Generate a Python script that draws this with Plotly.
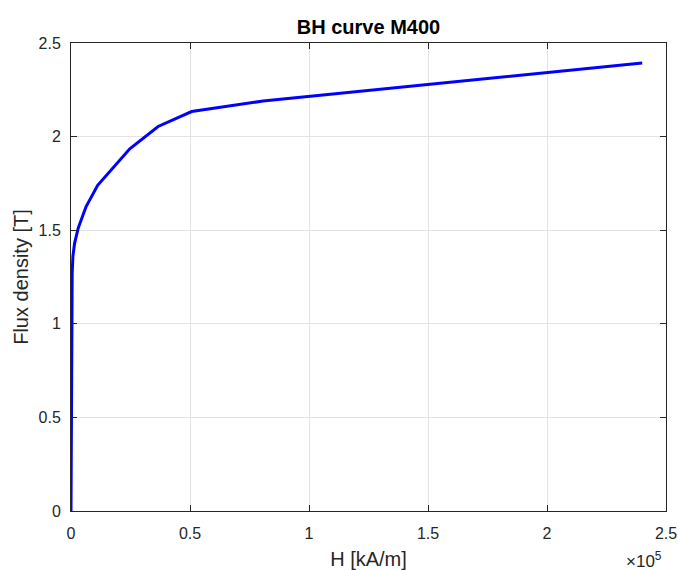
import plotly.graph_objects as go

H = [0, 100, 200, 300, 500, 800, 1500, 3000, 6300, 11200, 16800, 24700, 36600, 50700, 80700, 240000]
B = [0, 0.6, 1.0, 1.15, 1.27, 1.36, 1.43, 1.51, 1.625, 1.74, 1.823, 1.935, 2.054, 2.134, 2.19, 2.393]

x_tickvals = [0, 50000, 100000, 150000, 200000, 250000]
x_ticktext = ["0", "0.5", "1", "1.5", "2", "2.5"]
y_tickvals = [0, 0.5, 1, 1.5, 2, 2.5]
y_ticktext = ["0", "0.5", "1", "1.5", "2", "2.5"]

FONT = "Liberation Sans, Arial, Helvetica"
axis_common = dict(showline=True, linecolor="#262626", linewidth=1, mirror="allticks",
                   ticks="inside", ticklen=6, tickcolor="#262626",
                   showgrid=True, gridcolor="#e3e3e3", gridwidth=1, zeroline=False,
                   automargin=False,
                   tickfont=dict(family=FONT, size=16, color="#262626"))

fig = go.Figure()
fig.add_trace(go.Scatter(x=H, y=B, mode="lines",
                         line=dict(color="#0000ff", width=3), showlegend=False))

fig.update_layout(
    width=678, height=570,
    paper_bgcolor="white", plot_bgcolor="white",
    margin=dict(l=71, r=12, t=43, b=59),
    title=dict(text="<b>BH curve M400</b>", x=(71 + 666) / 2 / 678, xanchor="center",
               y=1 - 27 / 570, yanchor="middle",
               font=dict(family=FONT, size=20, color="black")),
    xaxis=dict(range=[0, 250000], tickvals=x_tickvals, ticktext=x_ticktext,
               ticklabelstandoff=8,
               title=dict(text="H [kA/m]", font=dict(family=FONT, size=20, color="#262626"), standoff=10),
               **axis_common),
    yaxis=dict(range=[0, 2.5], tickvals=y_tickvals, ticktext=y_ticktext,
               ticklabelstandoff=6,
               title=dict(text="Flux density [T]", font=dict(family=FONT, size=20, color="#262626"), standoff=4),
               **axis_common),
    annotations=[dict(text="×10<sup>5</sup>", xref="paper", yref="paper", x=1.0, y=0,
                      xanchor="right", yanchor="top", xshift=-2, yshift=-36, showarrow=False,
                      font=dict(family=FONT, size=17, color="#262626"))],
)

fig.write_html("out.html", config={"displayModeBar": False},
               post_script="document.body.style.margin='0';document.body.style.overflow='hidden';")
